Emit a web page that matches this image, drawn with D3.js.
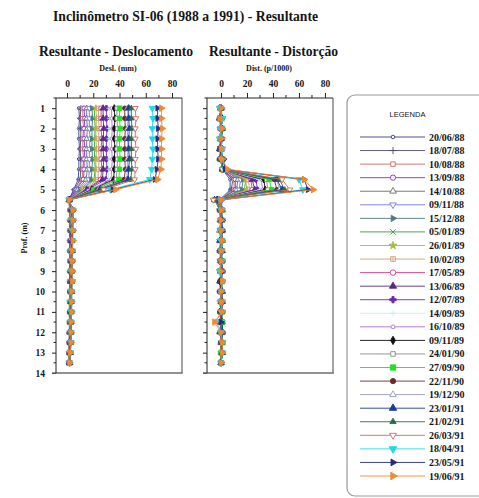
<!DOCTYPE html>
<html>
<head>
<meta charset="utf-8">
<script src="https://cdn.jsdelivr.net/npm/d3@7"></script>
<style>
  body { margin: 0; background: #fff; }
  svg text { font-family: "Liberation Serif", "Times New Roman", serif; font-weight: bold; fill: #161616; }
</style>
</head>
<body>
<svg id="chart" width="479" height="498"></svg>
<script>
// leituras do inclinometro SI-06, uma linha por campanha
const dates = ["20/06/88","18/07/88","10/08/88","13/09/88","14/10/88","09/11/88","15/12/88",
  "05/01/89","26/01/89","10/02/89","17/05/89","13/06/89","12/07/89","14/09/89","16/10/89",
  "09/11/89","24/01/90","27/09/90","22/11/90","19/12/90","23/01/91","21/02/91","26/03/91",
  "18/04/91","23/05/91","19/06/91"];

const depths = [1,1.5,2,2.5,3,3.5,4,4.5,5,5.5,6,6.5,7,7.5,8,8.5,9,9.5,10,10.5,11,11.5,12,12.5,13,13.5];

// deslocamento resultante (mm)
const deslocamento = [
  [9,9.5,9,9,9.5,9,9,8.5,5,1.5,2,2.5,2,2,2.5,2,2,2.5,2,2,1.5,2,2,1.5,1.5,1.5],
  [10.5,10,10.5,10.5,10,10.5,10.5,10,5.5,1.5,2.5,2,2.5,2,2,2.5,2,2,2.5,2,2,2,1.5,2,1.5,1.5],
  [12,12,12.5,12,12,12.5,12,11.5,6.5,1.5,2,2.5,2.5,2,2.5,2,2.5,2,2,2.5,2,2,2,1.5,1.5,1],
  [13,13.5,13,13,13.5,13,13,12.5,7,1.5,2.5,2.5,2,2.5,2,2.5,2,2.5,2,2,2.5,2,2,2,1.5,1.5],
  [15,15,15.5,15,15,15,15.5,14.5,8,2,3,2.5,3,2.5,2.5,3,2.5,2.5,3,2.5,2.5,2,2.5,2,2,1.5],
  [17,17,17,17.5,17,17,17,16.5,9,2,2.5,3,2.5,3,2.5,2.5,3,2.5,2.5,2,2.5,2.5,2,2,2,1.5],
  [19,19.5,19,19,19,19.5,19,18.5,10,2,3,2.5,3,3,2.5,3,2.5,3,2.5,2.5,2.5,2,2.5,2,1.5,1.5],
  [21,21,21.5,21,21,21,21.5,20.5,11,2,3,3,2.5,3,3,2.5,3,2.5,2.5,3,2,2.5,2,2,2,1.5],
  [22,22.5,22,22,22.5,22,22,21.5,12,2,2.5,3,3,2.5,3,3,2.5,3,2.5,2.5,2.5,2,2.5,2,1.5,1.5],
  [24,24,24.5,24,24,24.5,24,23.5,13,2,3,3,3,3,2.5,3,3,2.5,3,2.5,2.5,2.5,2,2,2,1.5],
  [26,26,26,26.5,26,26,26.5,25.5,14,2,3,3.5,3,3,3,3,2.5,3,3,2.5,2.5,2.5,2.5,2,2,1.5],
  [27.5,27.5,28,27.5,27.5,28,27.5,27,15,2,3.5,3,3,3.5,3,3,3,2.5,3,3,2.5,2.5,2,2.5,2,2],
  [30,30,30.5,30,30,30,30.5,29.5,16,2,3,3.5,3.5,3,3,3.5,3,3,2.5,3,2.5,2.5,2.5,2,2,2],
  [32,32.5,32,32,32.5,32,32,31.5,17,2,3.5,3,3.5,3.5,3,3,3.5,3,3,2.5,3,2.5,2.5,2,2,2],
  [34,34,34.5,34,34,34.5,34,33.5,18,2,3,3.5,3.5,3,3.5,3.5,3,3,3,3,2.5,2.5,2.5,2.5,2,2],
  [36,36.5,36,36,36.5,36,36,35.5,19,2,3.5,3.5,3,3.5,3.5,3,3.5,3,3,3,2.5,3,2.5,2,2,2],
  [38,38,38.5,38,38,38.5,38,37.5,20,2,3.5,3.5,4,3.5,3,3.5,3.5,3,3,3,3,2.5,2.5,2.5,2,2],
  [40,40,40.5,40,40,40.5,40,39.5,21,1.5,4,3.5,3.5,4,3.5,3.5,3,3.5,3,3,3,3,2.5,2.5,2,2],
  [44,44,44.5,44,44,44,44.5,43.5,23,1.5,3.5,4,4,3.5,3.5,4,3.5,3.5,3,3.5,3,3,2.5,2.5,2.5,2],
  [46,46.5,46,46,46.5,46,46,45.5,24,1.5,4,4,3.5,4,3.5,3.5,4,3.5,3,3,3,3,3,2.5,2.5,2],
  [47,47,47.5,47,47,47.5,47,46.5,25,1.5,4,4,4,3.5,4,3.5,3.5,3.5,3.5,3,3,3,3,2.5,2.5,2],
  [49,49,49.5,49,49,49,49.5,48.5,26,1.5,4,4.5,4,4,3.5,4,3.5,3.5,3.5,3,3,3,3,2.5,2.5,2],
  [52,52.5,52,52,52.5,52,52,51.5,28,1.5,4.5,4,4,4,4,3.5,3.5,4,3.5,3.5,3,3,3,3,2.5,2],
  [65,65.5,65,65,65.5,65,64.5,63,33,1.5,4.5,4.5,4,4,4,4,3.5,4,3.5,3.5,3.5,3,3,3,2.5,2],
  [69,69,69.5,69,69,69.5,68.5,67,35,1.5,4.5,4.5,4.5,4,4,4,4,3.5,3.5,3.5,3.5,3,3,3,2.5,2],
  [72,72,72.5,72,72,72,71.5,69,37,1.5,4.5,4.5,4.5,4.5,4,4,4,4,3.5,3.5,3.5,3,3,3,2.5,2]
];

// distorcao resultante (p/1000)
const distorcao = [
  [0,1,0,-1,1,0,1,7,7,-1,-1,1,0,-1,1,0,-1,1,0,1,-1,0,1,0,1,0],
  [1,-1,0,1,-1,0,1,9,8,1,0,-1,1,0,-1,1,0,0,1,-1,0,1,-1,1,0,0],
  [0,-1,1,0,-1,1,1,10,10,-1,-1,0,1,-1,1,-1,1,0,-1,1,0,0,1,0,1,0],
  [-1,1,0,-1,1,0,1,11,11,0,0,1,-1,1,-1,1,-1,0,0,1,-1,0,0,1,0,0],
  [0,-1,1,0,0,-1,2,13,12,-2,1,-1,1,0,-1,1,0,-1,1,0,1,-1,1,0,1,0],
  [0,0,-1,1,0,0,1,15,14,1,-1,1,-1,1,0,-1,1,0,1,-1,0,1,0,0,1,0],
  [-1,1,0,0,-1,1,1,17,16,-2,1,-1,0,1,-1,1,-1,1,0,0,1,-1,1,1,0,0],
  [0,-1,1,0,0,-1,2,19,18,-2,0,1,-1,0,1,-1,1,0,-1,2,-1,1,0,0,1,0],
  [-1,1,0,-1,1,0,1,19,20,-1,-1,0,1,-1,0,1,-1,1,0,0,1,-1,1,1,0,0],
  [0,-1,1,0,-1,1,1,21,22,-2,0,0,0,1,-1,0,1,-1,1,0,0,1,0,0,1,0],
  [0,0,-1,1,0,-1,2,23,24,-2,-1,1,0,0,0,1,-1,0,1,0,0,0,1,0,1,0],
  [0,-1,0,0,-1,1,1,24,26,-3,1,0,-1,1,0,0,1,-1,0,1,0,1,-1,1,0,0],
  [0,-1,1,0,0,-1,2,27,28,-2,-1,0,1,0,-1,1,0,1,-1,1,0,0,1,0,0,0],
  [-1,1,0,-1,1,0,1,29,30,-3,1,-1,0,1,0,-1,1,0,1,-1,1,0,1,0,0,0],
  [0,-1,1,0,-1,1,1,31,32,-2,-1,0,1,-1,0,1,0,0,0,1,0,0,0,1,0,0],
  [-1,1,0,-1,1,0,1,33,34,-3,0,1,-1,0,1,-1,1,-1,0,1,-1,1,1,0,0,0],
  [0,-1,1,0,-1,1,1,35,36,-3,0,-1,1,1,-1,0,1,0,0,0,1,0,0,1,0,0],
  [0,-1,1,0,-1,1,1,37,39,-5,1,0,-1,1,0,1,-1,1,0,0,0,1,0,1,0,0],
  [0,-1,1,0,0,-1,2,41,43,-4,-1,0,1,0,-1,1,0,1,-1,1,0,0,1,0,1,0],
  [1,-1,0,-1,1,0,1,43,45,-5,0,1,-1,1,0,-1,1,1,0,0,0,-4,1,0,1,0],
  [0,-1,1,0,-1,1,1,43,47,-5,0,0,1,-1,1,0,0,0,1,0,0,0,1,0,1,0],
  [0,-1,1,0,0,-1,2,45,49,-5,-1,1,0,1,-1,1,0,0,1,0,0,0,1,0,1,0],
  [-1,1,0,-1,1,0,1,47,53,-6,1,0,0,0,1,0,-1,1,0,1,0,0,0,1,1,0],
  [-1,1,0,-1,1,1,3,60,63,0,0,1,0,0,0,1,-1,1,0,0,1,0,0,1,1,0],
  [0,-1,1,0,-1,2,3,64,67,0,0,1,0,1,0,0,1,0,0,0,1,0,0,1,1,0],
  [0,-1,1,0,0,1,5,64,71,0,0,0,0,1,0,0,0,1,0,0,1,-5,0,1,1,0]
];

const xTicks = [0,20,40,60,80];
const xMinor = [10,30,50,70];
const yTicks = [1,2,3,4,5,6,7,8,9,10,11,12,13,14];
const yMinor = [0.5,1.5,2.5,3.5,4.5,5.5,6.5,7.5,8.5,9.5,10.5,11.5,12.5,13.5];

// estilo de cada serie (cor, simbolo, preenchido, area)
const seriesStyle = [
  {c:"#3b3b8f", s:"circle",  f:false, a:12},
  {c:"#4a4a6e", s:"plus",    f:false, a:22},
  {c:"#c86a6a", s:"square",  f:false, a:24},
  {c:"#8a2be2", s:"circle",  f:false, a:26},
  {c:"#6c6c6c", s:"tri",     f:false, a:22},
  {c:"#7878e0", s:"triDown", f:false, a:22},
  {c:"#4c7c7c", s:"triRight",f:true,  a:20},
  {c:"#3a9a3a", s:"times",   f:false, a:24},
  {c:"#a8b848", s:"star",    f:true,  a:22},
  {c:"#c8a070", s:"boxPlus", f:false, a:26},
  {c:"#d03c8c", s:"circle",  f:false, a:28},
  {c:"#5a2a7a", s:"tri",     f:true,  a:26},
  {c:"#6a2aaa", s:"cross",   f:true,  a:26},
  {c:"#bfeff3", s:"plus",    f:false, a:16},
  {c:"#b070d0", s:"circle",  f:false, a:14},
  {c:"#111111", s:"diamond", f:true,  a:24},
  {c:"#8a8a8a", s:"square",  f:false, a:24},
  {c:"#22e022", s:"square",  f:true,  a:34},
  {c:"#6a2a2a", s:"circle",  f:true,  a:26},
  {c:"#9a9ac4", s:"tri",     f:false, a:22},
  {c:"#1a3a9a", s:"tri",     f:true,  a:28},
  {c:"#2a6a4a", s:"tri",     f:true,  a:20},
  {c:"#d06a5a", s:"triDown", f:false, a:24},
  {c:"#22d8e8", s:"triDown", f:true,  a:30},
  {c:"#2a2a7a", s:"triRight",f:true,  a:24},
  {c:"#f08a30", s:"triRight",f:true,  a:30}
];

const svg = d3.select("#chart");

const symbolFor = {
  circle: d3.symbolCircle, plus: d3.symbolPlus, square: d3.symbolSquare, tri: d3.symbolTriangle,
  triDown: d3.symbolTriangle, triRight: d3.symbolTriangle, times: d3.symbolTimes,
  star: d3.symbolStar, cross: d3.symbolCross, diamond: d3.symbolDiamond, boxPlus: d3.symbolSquare
};
const rotFor = {triDown: 180, triRight: 90};

function drawMarker(g, st, px, py, k) {
  const area = st.a * k;
  const m = g.append("g").attr("transform", `translate(${px},${py}) rotate(${rotFor[st.s] || 0})`);
  const stroked = st.s === "plus" || st.s === "times";
  m.append("path")
    .attr("d", d3.symbol().type(symbolFor[st.s]).size(area)())
    .attr("fill", st.f ? st.c : (stroked ? "none" : "#fff"))
    .attr("stroke", st.c)
    .attr("stroke-width", 0.9);
  if (st.s === "boxPlus") {
    const h = Math.sqrt(area) / 2;
    m.append("path").attr("d", `M${-h},0H${h}M0,${-h}V${h}`)
      .attr("stroke", st.c).attr("stroke-width", 0.7);
  }
}

const y = d3.scaleLinear().domain([0.5, 14]).range([98, 373]);

function panel(values, xRange, xDomain, showY) {
  const x = d3.scaleLinear().domain(xDomain).range(xRange);
  const g = svg.append("g");

  // eixo superior
  const top = g.append("g").attr("transform", `translate(0,${y.range()[0]})`);
  top.call(d3.axisTop(x).tickValues(xTicks).tickSize(5).tickPadding(6).tickSizeOuter(0))
    .call(a => a.select(".domain").remove());
  top.selectAll("text").attr("font-size", 9.5).attr("fill", "#161616");
  top.selectAll("line").attr("stroke", "#222");
  top.append("g").selectAll("line").data(xMinor).join("line")
    .attr("x1", x).attr("x2", x).attr("y1", 0).attr("y2", -3).attr("stroke", "#222");

  // eixo esquerdo
  const left = g.append("g").attr("transform", `translate(${xRange[0]},0)`);
  left.call(d3.axisLeft(y).tickValues(yTicks).tickSize(4).tickPadding(7).tickSizeOuter(0)
      .tickFormat(showY ? d3.format("d") : ""))
    .call(a => a.select(".domain").remove());
  left.selectAll("text").attr("font-size", 9.5).attr("fill", "#161616");
  left.selectAll("line").attr("stroke", "#222");
  left.append("g").selectAll("line").data(yMinor).join("line")
    .attr("y1", y).attr("y2", y).attr("x1", 0).attr("x2", -2.5).attr("stroke", "#222");

  // moldura
  g.append("line").attr("x1", xRange[1]).attr("x2", xRange[1]).attr("y1", y.range()[0]).attr("y2", y.range()[1])
    .attr("stroke", "#8c8c8c").attr("stroke-width", 1.6);
  g.append("line").attr("x1", xRange[0] - 4).attr("x2", xRange[1] + 0.8).attr("y1", y.range()[1]).attr("y2", y.range()[1])
    .attr("stroke", "#6c6c6c").attr("stroke-width", 1.6);
  g.append("line").attr("x1", xRange[0]).attr("x2", xRange[1]).attr("y1", y.range()[0]).attr("y2", y.range()[0])
    .attr("stroke", "#222");
  g.append("line").attr("x1", xRange[0]).attr("x2", xRange[0]).attr("y1", y.range()[0]).attr("y2", y.range()[1])
    .attr("stroke", "#222");

  const line = d3.line().x(d => x(d[0])).y(d => y(d[1]));
  values.forEach((serie, i) => {
    const st = seriesStyle[i];
    const pts = serie.map((v, k) => [v, depths[k]]);
    g.append("path").datum(pts).attr("d", line)
      .attr("fill", "none").attr("stroke", st.c).attr("stroke-width", 0.9);
    const mg = g.append("g");
    pts.forEach(p => drawMarker(mg, st, x(p[0]), y(p[1]), 0.6));
  });
}

panel(deslocamento, [56, 182], [-8.4, 87.6], true);
panel(distorcao, [207, 333], [-10.8, 86.2], false);

// textos
svg.append("text").attr("x", 53).attr("y", 21).attr("font-size", 13.7)
  .text("Inclinômetro SI-06 (1988 a 1991) - Resultante");
svg.append("text").attr("x", 39).attr("y", 56).attr("font-size", 13.6)
  .text("Resultante - Deslocamento");
svg.append("text").attr("x", 209).attr("y", 56).attr("font-size", 13.6)
  .text("Resultante - Distorção");
svg.append("text").attr("x", 118).attr("y", 71).attr("font-size", 8).attr("text-anchor", "middle")
  .text("Desl. (mm)");
svg.append("text").attr("x", 269).attr("y", 71).attr("font-size", 8).attr("text-anchor", "middle")
  .text("Dist. (p/1000)");
svg.append("text").attr("transform", "translate(27,238) rotate(-90)").attr("font-size", 8)
  .attr("text-anchor", "middle").text("Prof. (m)");

// legenda
const lg = svg.append("g");
lg.append("rect").attr("x", 347).attr("y", 95).attr("width", 145).attr("height", 401)
  .attr("rx", 8).attr("fill", "#fff").attr("stroke", "#9a9a9a").attr("stroke-width", 1.2);
lg.append("text").attr("x", 407.5).attr("y", 117).attr("font-size", 7.5).attr("text-anchor", "middle")
  .style("font-family", "'Liberation Sans', Arial, sans-serif").style("font-weight", "normal")
  .attr("fill", "#555").text("LEGENDA");
const rowY = d3.scaleLinear().domain([0, dates.length - 1]).range([137, 476]);
dates.forEach((dt, i) => {
  const st = seriesStyle[i];
  const yy = rowY(i);
  lg.append("line").attr("x1", 360).attr("x2", 425).attr("y1", yy).attr("y2", yy)
    .attr("stroke", st.c).attr("stroke-width", 0.9);
  drawMarker(lg, st, 393, yy, 0.85);
  lg.append("text").attr("x", 429).attr("y", yy + 3.5).attr("font-size", 10).attr("fill", "#1c1c30").text(dt);
});
</script>
</body>
</html>
